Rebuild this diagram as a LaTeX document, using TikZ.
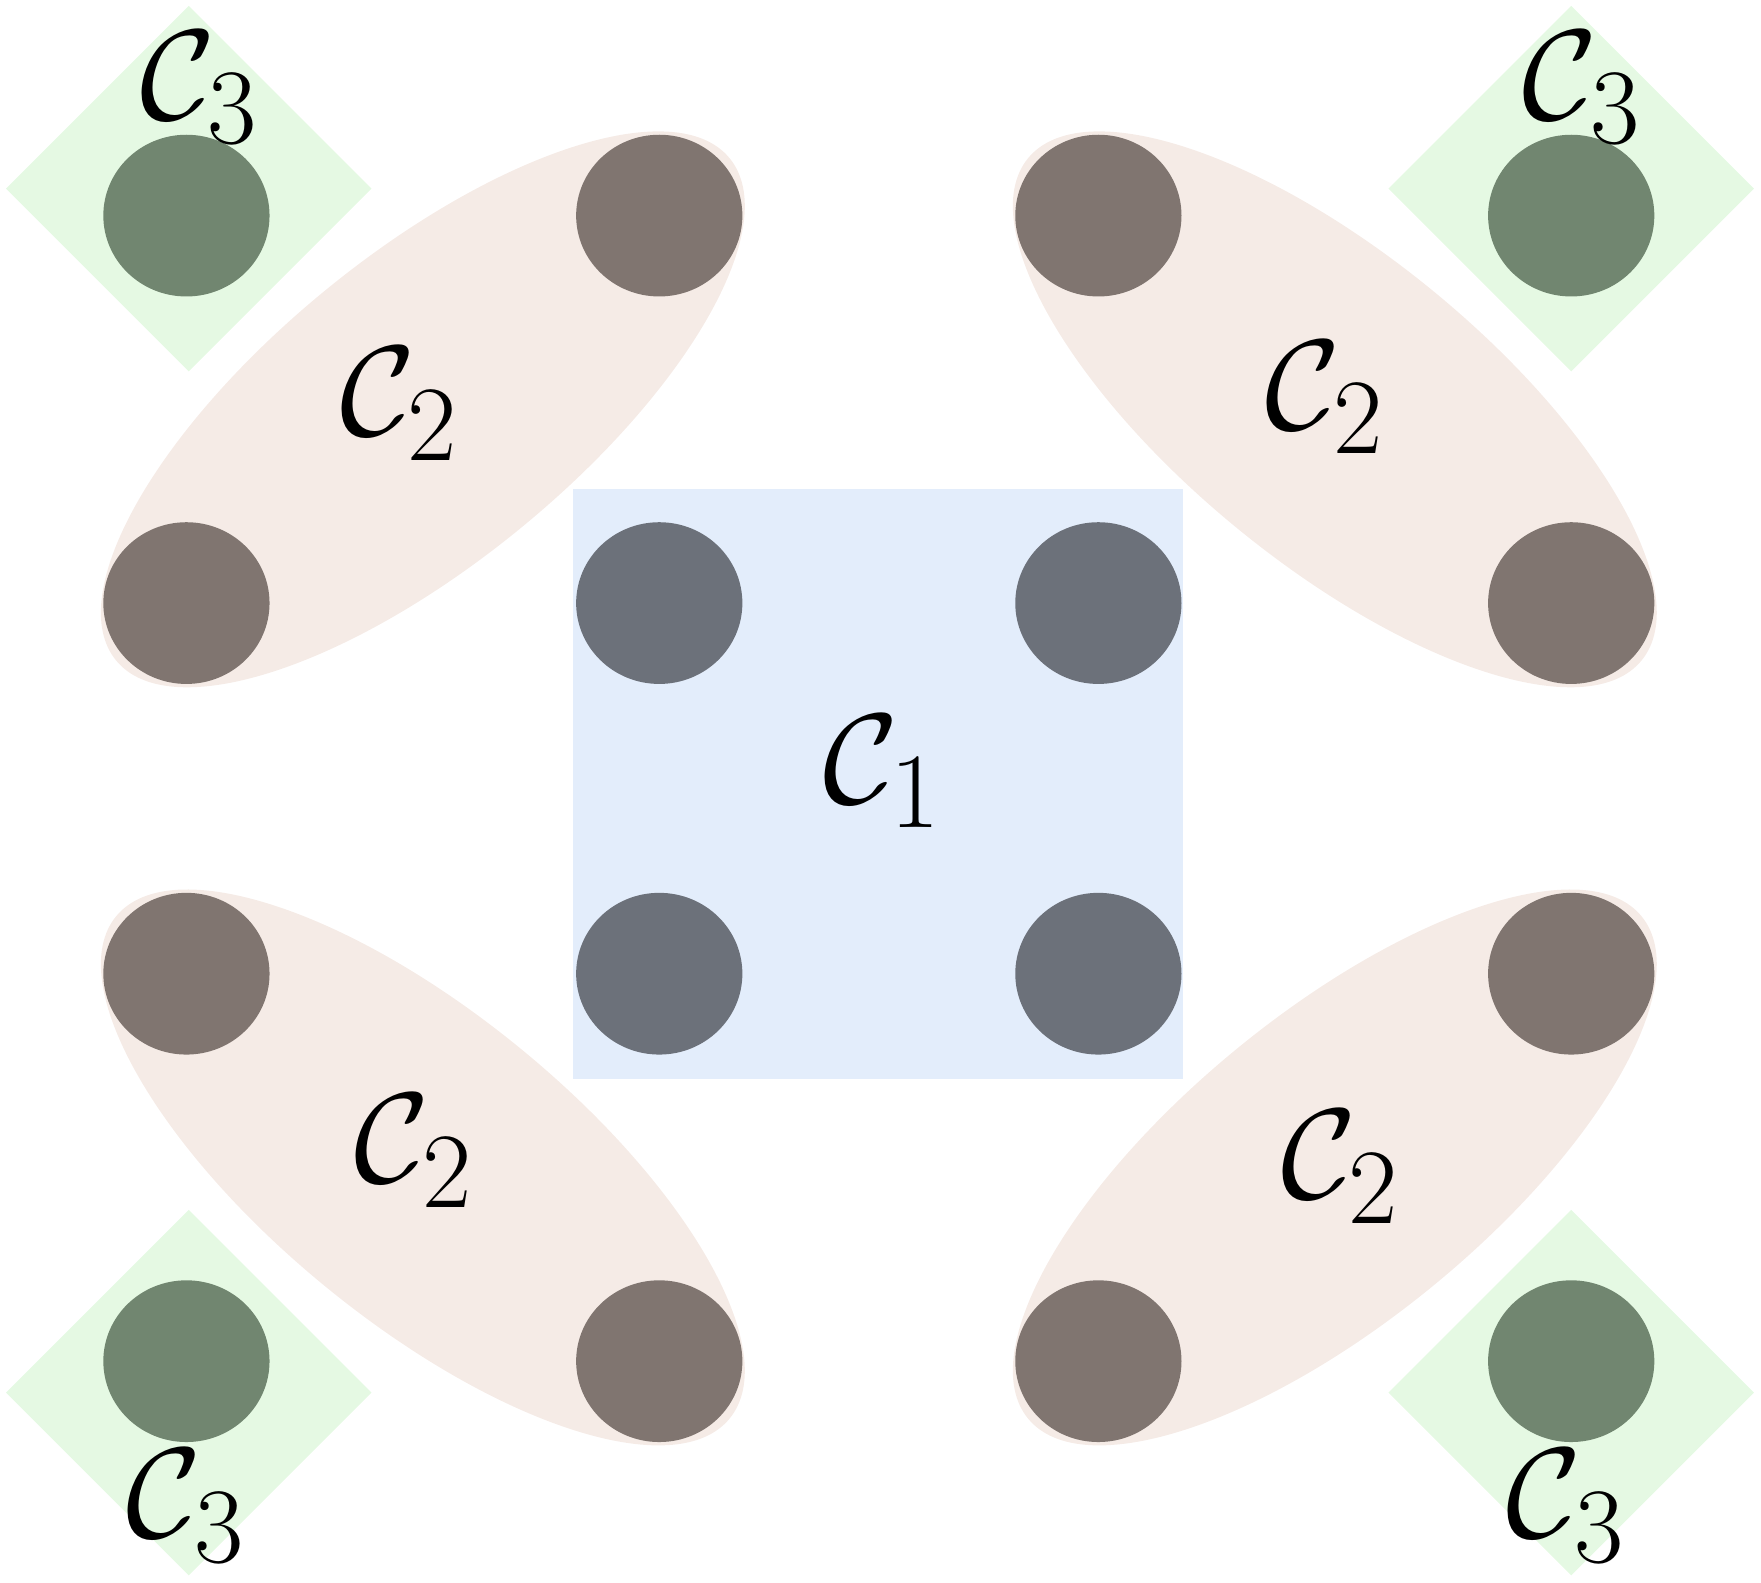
\documentclass[tikz,border=0pt]{standalone}
\usepackage{amsmath,amssymb}
\usepackage{tikz}
\usetikzlibrary{shapes.geometric,calc,positioning}
\usepackage{xcolor}
\definecolor{clusterone}{RGB}{227,237,251}
\definecolor{clustertwo}{RGB}{245,235,230}
\definecolor{clusterthree}{RGB}{229,249,227}
\definecolor{dotone}{RGB}{108,113,122}
\definecolor{dottwo}{RGB}{128,117,112}
\definecolor{dotthree}{RGB}{113,134,112}
\tikzset{
  pt/.style={ellipse,draw=none,inner sep=0pt,minimum width=1.48cm,minimum height=1.44cm},
  ptone/.style={pt,fill=dotone},
  pttwo/.style={pt,fill=dottwo},
  ptthree/.style={pt,fill=dotthree},
  pair/.style={ellipse,draw=none,fill=clustertwo,inner sep=0pt,
               minimum width=7.06cm,minimum height=2.74cm},
  corner/.style={diamond,aspect=1,draw=none,fill=clusterthree,inner sep=0pt,
                 minimum width=3.26cm,minimum height=3.26cm},
  lbl/.style={inner sep=0pt,font=\Huge,scale=1.31},
}
\begin{document}
\begin{tikzpicture}[x=1cm,y=1cm]
  \useasboundingbox (0,0) rectangle (15.68,14.09);
  % cluster C_1
  \node[fill=clusterone,draw=none,inner sep=0pt,minimum width=5.43cm,
        minimum height=5.26cm] (sq) at (7.815,7.11) {};
  % clusters C_2
  \node[pair,rotate=39.3]  (e1) at (3.765,10.445) {};
  \node[pair,rotate=-39.3] (e2) at (11.885,10.445) {};
  \node[pair,rotate=-39.3] (e3) at (3.765,3.695) {};
  \node[pair,rotate=39.3]  (e4) at (11.885,3.695) {};
  % clusters C_3
  \node[corner] (q1) at (1.68,12.41) {};
  \node[corner] (q2) at (13.99,12.41) {};
  \node[corner] (q3) at (1.68,1.69) {};
  \node[corner] (q4) at (13.99,1.69) {};
  % points
  \foreach \x/\y/\n in {5.87/8.72/a1,9.78/8.72/a2,5.87/5.42/a3,9.78/5.42/a4}{
    \node[ptone] (\n) at (\x,\y) {};}
  \foreach \x/\y/\n in {5.87/12.17/b1,1.66/8.72/b2,9.78/12.17/b3,13.99/8.72/b4,
                        1.66/5.42/b5,5.87/1.97/b6,9.78/1.97/b7,13.99/5.42/b8}{
    \node[pttwo] (\n) at (\x,\y) {};}
  \foreach \x/\y/\n in {1.66/12.17/c1,13.99/12.17/c2,1.66/1.97/c3,13.99/1.97/c4}{
    \node[ptthree] (\n) at (\x,\y) {};}
  % labels
  \node[lbl] (l1) at (7.86,7.22) {$\mathcal{C}_1$};
  \node[lbl] (l2a) at (3.56,10.49) {$\mathcal{C}_2$};
  \node[lbl] (l2b) at (11.80,10.55) {$\mathcal{C}_2$};
  \node[lbl] (l2c) at (3.69,3.84) {$\mathcal{C}_2$};
  \node[lbl] (l2d) at (11.94,3.70) {$\mathcal{C}_2$};
  \node[lbl] (l3a) at (1.78,13.31) {$\mathcal{C}_3$};
  \node[lbl] (l3b) at (14.09,13.31) {$\mathcal{C}_3$};
  \node[lbl] (l3c) at (1.66,0.68) {$\mathcal{C}_3$};
  \node[lbl] (l3d) at (13.95,0.68) {$\mathcal{C}_3$};
\end{tikzpicture}
\end{document}
